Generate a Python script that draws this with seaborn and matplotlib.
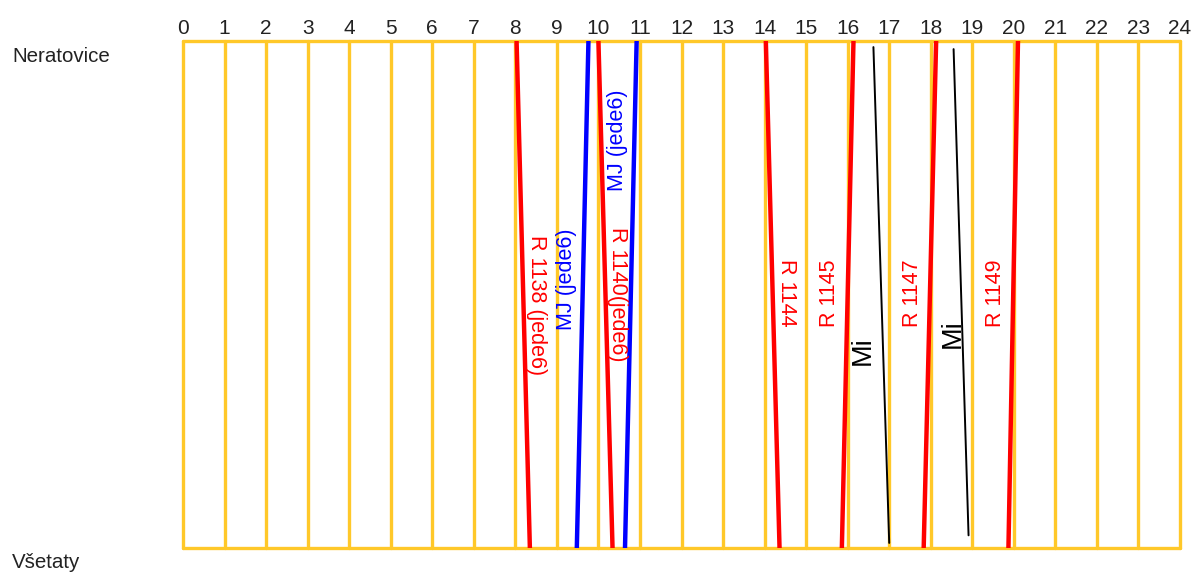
import matplotlib
matplotlib.use("Agg")
import matplotlib.pyplot as plt
from matplotlib import font_manager
import seaborn as sns
import pandas as pd

# Stations (0 = Neratovice at top, 1 = Všetaty at bottom)
stations = ["Neratovice", "Všetaty"]
hours = list(range(0, 25))

# Train paths: departure / arrival times in decimal hours at each station
trains = ["R 1138 (jede6)", "MJ (jede6) a", "R 1140(jede6)", "MJ (jede6) b",
          "R 1144", "R 1145", "Mi a", "R 1147", "Mi b", "R 1149"]
labels = ["R 1138 (jede6)", "MJ (jede6)", "R 1140(jede6)", "MJ (jede6)",
          "R 1144", "R 1145", "Mi", "R 1147", "Mi", "R 1149"]
kinds = ["R", "MJ", "R", "MJ", "R", "R", "Mi", "R", "Mi", "R"]
time_start = [8.03, 9.48, 10.00, 10.64, 14.03, 15.86, 16.62, 17.83, 18.55, 19.87]
time_end = [8.35, 9.76, 10.34, 10.92, 14.36, 16.14, 17.00, 18.13, 18.91, 20.10]
pos_start = [0.0, 1.0, 0.0, 1.0, 0.0, 1.0, 0.012, 1.0, 0.016, 1.0]
pos_end = [1.0, 0.0, 1.0, 0.0, 1.0, 0.0, 0.990, 0.0, 0.975, 0.0]

# Label anchor points (time, position) and text direction
label_time = [8.52, 9.24, 10.47, 10.47, 14.53, 15.57, 16.37, 17.55, 18.54, 19.57]
label_pos = [0.52, 0.47, 0.50, 0.195, 0.497, 0.497, 0.61, 0.497, 0.578, 0.497]
label_rot = [-90, 90, -90, 90, -90, 90, 90, 90, 90, 90]

styles = {
    "R": dict(color="#FF0000", lw=3.2),
    "MJ": dict(color="#0000FF", lw=3.2),
    "Mi": dict(color="#000000", lw=1.4),
}
label_fs = {"R": 15.5, "MJ": 15.5, "Mi": 19.5}

rows = []
for name, k, t0, t1, p0, p1 in zip(trains, kinds, time_start, time_end, pos_start, pos_end):
    rows.append(dict(train=name, kind=k, time=t0, pos=p0))
    rows.append(dict(train=name, kind=k, time=t1, pos=p1))
df = pd.DataFrame(rows)

sns.set_style("white")
plt.rcParams["font.family"] = ["Liberation Sans", "DejaVu Sans"]

installed = {f.name for f in font_manager.fontManager.ttflist}
tick_family = ["Liberation Sans Narrow"] if "Liberation Sans Narrow" in installed else ["Liberation Sans"]

fig = plt.figure(figsize=(11.96, 5.75), dpi=100)
ax = fig.add_axes([183 / 1196, 1 - 548 / 575, (1180 - 183) / 1196, (548 - 41) / 575])

grid_color = "#FFC829"
for h in hours:
    ax.axvline(h, color=grid_color, lw=2.4, zorder=1, clip_on=False)
for p in (0, 1):
    ax.axhline(p, color=grid_color, lw=2.4, zorder=1, clip_on=False)

for name, k in zip(trains, kinds):
    sub = df[df["train"] == name]
    sns.lineplot(data=sub, x="time", y="pos", ax=ax, color=styles[k]["color"],
                 linewidth=styles[k]["lw"], estimator=None, sort=False,
                 legend=False, zorder=3)

for txt, k, lt, lp, rot in zip(labels, kinds, label_time, label_pos, label_rot):
    ax.text(lt, lp, txt, color=styles[k]["color"], fontsize=label_fs[k],
            rotation=rot, rotation_mode="anchor", ha="center", va="center", zorder=4)

ax.set_xlim(0, 24)
ax.set_ylim(1, 0)
ax.set_xlabel("")
ax.set_ylabel("")
ax.xaxis.tick_top()
ax.set_xticks(hours)
ax.set_xticklabels([str(h) for h in hours], fontsize=15, color="#222222",
                   family=tick_family)
ax.tick_params(axis="x", length=0, pad=2)
ax.set_yticks([])
for s in ax.spines.values():
    s.set_visible(False)

fig.text(12 / 1196, 1 - 56 / 575, stations[0], fontsize=14.8, color="#222222",
         ha="left", va="center")
fig.text(12 / 1196, 1 - 563 / 575, stations[1], fontsize=14.8, color="#222222",
         ha="left", va="center")

fig.savefig("out.png", dpi=100, facecolor="white")
